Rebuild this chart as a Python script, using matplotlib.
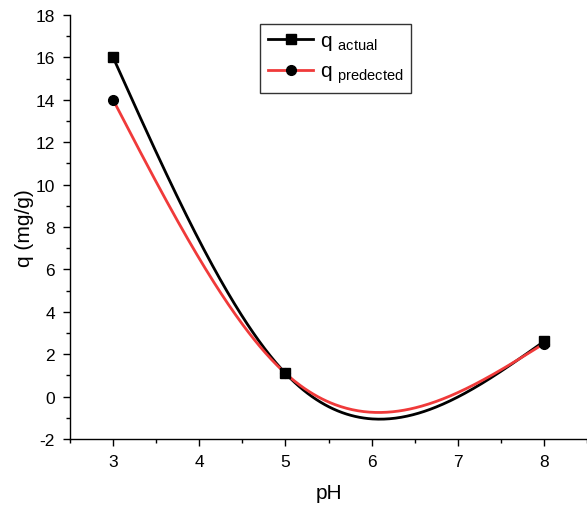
import numpy as np
import matplotlib
matplotlib.use("Agg")
import matplotlib.pyplot as plt
from matplotlib.ticker import MultipleLocator

plt.rcParams['font.family'] = ['Liberation Sans', 'DejaVu Sans']
plt.rcParams['axes.unicode_minus'] = False
plt.rcParams['mathtext.fontset'] = 'custom'
plt.rcParams['mathtext.rm'] = 'Liberation Sans'

ph = [3, 5, 8]
q_actual = [16.0, 1.1, 2.6]
q_predicted = [14.0, 1.1, 2.5]


def natural_spline(x, y, n=300):
    x = np.asarray(x, float)
    y = np.asarray(y, float)
    m = len(x)
    h = np.diff(x)
    A = np.zeros((m, m))
    r = np.zeros(m)
    A[0, 0] = 1
    A[-1, -1] = 1
    for i in range(1, m - 1):
        A[i, i - 1] = h[i - 1]
        A[i, i] = 2 * (h[i - 1] + h[i])
        A[i, i + 1] = h[i]
        r[i] = 6 * ((y[i + 1] - y[i]) / h[i] - (y[i] - y[i - 1]) / h[i - 1])
    M = np.linalg.solve(A, r)
    xs = np.linspace(x[0], x[-1], n)
    ys = np.empty_like(xs)
    for k, xv in enumerate(xs):
        i = min(np.searchsorted(x, xv, side='right') - 1, m - 2)
        i = max(i, 0)
        a = x[i + 1] - xv
        b = xv - x[i]
        hi = h[i]
        ys[k] = (M[i] * a**3 / (6 * hi) + M[i + 1] * b**3 / (6 * hi)
                 + (y[i] - M[i] * hi**2 / 6) * a / hi
                 + (y[i + 1] - M[i + 1] * hi**2 / 6) * b / hi)
    return xs, ys


fig = plt.figure(figsize=(5.87, 5.06), dpi=100)
ax = fig.add_axes([0.1193, 0.1304, 0.8807, 0.8380])

xs, ys = natural_spline(ph, q_actual)
ax.plot(xs, ys, color='black', lw=2.0, zorder=3)
ax.plot(ph, q_actual, 's', color='black', ms=6.5, zorder=4)
xs2, ys2 = natural_spline(ph, q_predicted)
ax.plot(xs2, ys2, color='#f03a3a', lw=2.0, zorder=3)
ax.plot(ph, q_predicted, 'o', color='black', ms=7, zorder=5)

ax.plot([], [], '-s', color='black', lw=2.0, ms=6.5, label=r'q $_{\mathrm{actual}}$')
ax.plot([], [], '-o', color='#f03a3a', mfc='black', mec='black', lw=2.0, ms=7,
        label=r'q $_{\mathrm{predected}}$')

ax.set_xlim(2.5, 8.5)
ax.set_ylim(-2, 18)
ax.xaxis.set_major_locator(MultipleLocator(1))
ax.xaxis.set_minor_locator(MultipleLocator(0.5))
ax.yaxis.set_major_locator(MultipleLocator(2))
ax.yaxis.set_minor_locator(MultipleLocator(1))
ax.tick_params(which='major', direction='out', length=5, width=1, labelsize=12.5, pad=6)
ax.tick_params(which='minor', direction='out', length=3, width=1)
ax.spines['top'].set_visible(False)
ax.spines['right'].set_visible(False)
for s in ('left', 'bottom'):
    ax.spines[s].set_linewidth(1)

ax.set_xlabel('pH', fontsize=15, labelpad=10)
ax.set_ylabel('q (mg/g)', fontsize=15, labelpad=1)

leg = ax.legend(loc='upper left', bbox_to_anchor=(0.348, 1.003), fontsize=15,
                frameon=True, fancybox=False, edgecolor='black', handlelength=2.2,
                borderpad=0.35, labelspacing=0.45, handletextpad=0.3)
leg.get_frame().set_linewidth(1)

fig.savefig('out.png', dpi=100)
